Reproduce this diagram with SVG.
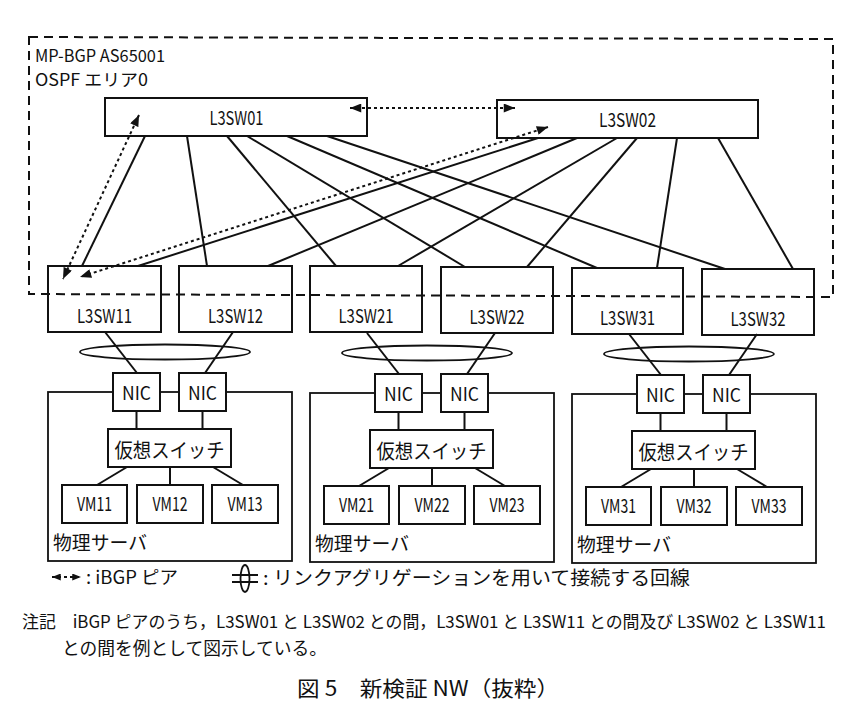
<svg xmlns="http://www.w3.org/2000/svg" width="857" height="717" viewBox="0 0 857 717">
<style>
text{font-family:"Noto Sans CJK JP","Noto Sans",sans-serif;fill:#111}
.box{fill:#fff;stroke:#111;stroke-width:2}
.sw{fill:none;stroke:#111;stroke-width:2}
.srv{fill:none;stroke:#111;stroke-width:1.8}
.ln{stroke:#111;stroke-width:2;fill:none}
.ibgp{stroke:#111;stroke-width:2;fill:none;stroke-dasharray:3 3}
.area{fill:none;stroke:#111;stroke-width:2;stroke-dasharray:9 6}
.lag{fill:none;stroke:#111;stroke-width:1.8}
.lbl{font-size:19px}
.c{text-anchor:middle}
</style>
<defs>
<marker id="ah" viewBox="0 0 10 8" refX="10" refY="4" markerWidth="12" markerHeight="9" markerUnits="userSpaceOnUse" orient="auto-start-reverse"><path d="M0,0 L10,4 L0,8 Z" fill="#111"/></marker>
<marker id="ahs" viewBox="0 0 10 8" refX="10" refY="4" markerWidth="9" markerHeight="7" markerUnits="userSpaceOnUse" orient="auto-start-reverse"><path d="M0,0 L10,4 L0,8 Z" fill="#111"/></marker>
</defs>
<rect width="857" height="717" fill="#fff"/>

<g id="area">
<path class="area" d="M29,37 L833,39 L833,297 L29,294 Z"/>
<text x="35" y="62" font-size="17" textLength="130" lengthAdjust="spacingAndGlyphs">MP-BGP AS65001</text>
<text x="35" y="86" font-size="17" textLength="113" lengthAdjust="spacingAndGlyphs">OSPF エリア0</text>
</g>

<g id="L3SW01"><rect class="box" x="105" y="98" width="262" height="38"/><text class="lbl c" x="236.5" y="125" textLength="54" lengthAdjust="spacingAndGlyphs">L3SW01</text></g>
<g id="L3SW02"><rect class="box" x="497" y="100" width="261" height="38"/><text class="lbl c" x="627.5" y="127" textLength="57" lengthAdjust="spacingAndGlyphs">L3SW02</text></g>

<g id="L3SW11"><rect class="sw" x="48" y="266" width="113" height="66"/><text class="lbl c" x="104.5" y="323" textLength="55" lengthAdjust="spacingAndGlyphs">L3SW11</text></g>
<g id="L3SW12"><rect class="sw" x="179" y="266" width="113" height="66"/><text class="lbl c" x="235.5" y="323" textLength="55" lengthAdjust="spacingAndGlyphs">L3SW12</text></g>
<g id="L3SW21"><rect class="sw" x="310" y="266" width="112" height="66"/><text class="lbl c" x="366" y="323" textLength="55" lengthAdjust="spacingAndGlyphs">L3SW21</text></g>
<g id="L3SW22"><rect class="sw" x="441" y="267" width="112" height="66"/><text class="lbl c" x="497" y="324" textLength="55" lengthAdjust="spacingAndGlyphs">L3SW22</text></g>
<g id="L3SW31"><rect class="sw" x="572" y="268" width="111" height="66"/><text class="lbl c" x="627.5" y="325" textLength="55" lengthAdjust="spacingAndGlyphs">L3SW31</text></g>
<g id="L3SW32"><rect class="sw" x="702" y="269" width="112" height="66"/><text class="lbl c" x="758" y="326" textLength="55" lengthAdjust="spacingAndGlyphs">L3SW32</text></g>

<g id="server1">
<rect class="srv" x="48" y="392" width="244" height="169"/>
<text x="53" y="550" font-size="19" textLength="94" lengthAdjust="spacingAndGlyphs">物理サーバ</text>
</g>
<g id="NIC11"><rect class="box" x="113" y="373" width="47" height="38"/><text class="c" x="136.5" y="400" font-size="18" textLength="29" lengthAdjust="spacingAndGlyphs">NIC</text></g>
<g id="NIC12"><rect class="box" x="179" y="373" width="47" height="38"/><text class="c" x="202.5" y="400" font-size="18" textLength="29" lengthAdjust="spacingAndGlyphs">NIC</text></g>
<g id="vswitch1"><rect class="box" x="108" y="429" width="123" height="38"/><text class="c" x="169.5" y="458" font-size="20" textLength="110" lengthAdjust="spacingAndGlyphs">仮想スイッチ</text></g>
<g id="VM11"><rect class="box" x="62" y="485" width="65" height="38"/><text class="c" x="94.5" y="511" font-size="19" textLength="35" lengthAdjust="spacingAndGlyphs">VM11</text></g>
<g id="VM12"><rect class="box" x="137" y="485" width="66" height="38"/><text class="c" x="170" y="511" font-size="19" textLength="35" lengthAdjust="spacingAndGlyphs">VM12</text></g>
<g id="VM13"><rect class="box" x="212" y="485" width="66" height="38"/><text class="c" x="245" y="511" font-size="19" textLength="35" lengthAdjust="spacingAndGlyphs">VM13</text></g>

<g transform="translate(262,1)">
<g id="server2">
<rect class="srv" x="48" y="392" width="244" height="169"/>
<text x="53" y="550" font-size="19" textLength="94" lengthAdjust="spacingAndGlyphs">物理サーバ</text>
</g>
<g id="NIC21"><rect class="box" x="113" y="373" width="47" height="38"/><text class="c" x="136.5" y="400" font-size="18" textLength="29" lengthAdjust="spacingAndGlyphs">NIC</text></g>
<g id="NIC22"><rect class="box" x="179" y="373" width="47" height="38"/><text class="c" x="202.5" y="400" font-size="18" textLength="29" lengthAdjust="spacingAndGlyphs">NIC</text></g>
<g id="vswitch2"><rect class="box" x="108" y="429" width="123" height="38"/><text class="c" x="169.5" y="458" font-size="20" textLength="110" lengthAdjust="spacingAndGlyphs">仮想スイッチ</text></g>
<g id="VM21"><rect class="box" x="62" y="485" width="65" height="38"/><text class="c" x="94.5" y="511" font-size="19" textLength="35" lengthAdjust="spacingAndGlyphs">VM21</text></g>
<g id="VM22"><rect class="box" x="137" y="485" width="66" height="38"/><text class="c" x="170" y="511" font-size="19" textLength="35" lengthAdjust="spacingAndGlyphs">VM22</text></g>
<g id="VM23"><rect class="box" x="212" y="485" width="66" height="38"/><text class="c" x="245" y="511" font-size="19" textLength="35" lengthAdjust="spacingAndGlyphs">VM23</text></g>
</g>

<g transform="translate(524,2)">
<g id="server3">
<rect class="srv" x="48" y="392" width="244" height="169"/>
<text x="53" y="550" font-size="19" textLength="94" lengthAdjust="spacingAndGlyphs">物理サーバ</text>
</g>
<g id="NIC31"><rect class="box" x="113" y="373" width="47" height="38"/><text class="c" x="136.5" y="400" font-size="18" textLength="29" lengthAdjust="spacingAndGlyphs">NIC</text></g>
<g id="NIC32"><rect class="box" x="179" y="373" width="47" height="38"/><text class="c" x="202.5" y="400" font-size="18" textLength="29" lengthAdjust="spacingAndGlyphs">NIC</text></g>
<g id="vswitch3"><rect class="box" x="108" y="429" width="123" height="38"/><text class="c" x="169.5" y="458" font-size="20" textLength="110" lengthAdjust="spacingAndGlyphs">仮想スイッチ</text></g>
<g id="VM31"><rect class="box" x="62" y="485" width="65" height="38"/><text class="c" x="94.5" y="511" font-size="19" textLength="35" lengthAdjust="spacingAndGlyphs">VM31</text></g>
<g id="VM32"><rect class="box" x="137" y="485" width="66" height="38"/><text class="c" x="170" y="511" font-size="19" textLength="35" lengthAdjust="spacingAndGlyphs">VM32</text></g>
<g id="VM33"><rect class="box" x="212" y="485" width="66" height="38"/><text class="c" x="245" y="511" font-size="19" textLength="35" lengthAdjust="spacingAndGlyphs">VM33</text></g>
</g>

<g id="connectors">
<line class="ln" x1="145" y1="136" x2="82" y2="266"/>
<line class="ln" x1="187" y1="136" x2="207" y2="266"/>
<line class="ln" x1="227" y1="136" x2="336" y2="266"/>
<line class="ln" x1="247" y1="136" x2="465" y2="267"/>
<line class="ln" x1="287" y1="136" x2="597" y2="268"/>
<line class="ln" x1="327" y1="136" x2="725" y2="269"/>
<line class="ln" x1="538" y1="138" x2="138" y2="266"/>
<line class="ln" x1="577" y1="138" x2="268" y2="266"/>
<line class="ln" x1="617" y1="138" x2="398" y2="266"/>
<line class="ln" x1="637" y1="138" x2="527" y2="267"/>
<line class="ln" x1="677" y1="138" x2="657" y2="268"/>
<line class="ln" x1="718" y1="138" x2="793" y2="269"/>
<line class="ibgp" x1="350" y1="108" x2="515" y2="108" marker-start="url(#ah)" marker-end="url(#ah)"/>
<line class="ibgp" x1="139" y1="115" x2="63" y2="279" marker-start="url(#ah)" marker-end="url(#ah)"/>
<line class="ibgp" x1="548" y1="127" x2="80" y2="277" marker-start="url(#ah)" marker-end="url(#ah)"/>
<g id="lag1">
<ellipse class="lag" cx="165" cy="352" rx="85" ry="7.5"/>
<line class="ln" x1="105" y1="332" x2="137" y2="373"/>
<line class="ln" x1="233" y1="332" x2="205" y2="373"/>
<line class="ln" x1="136.5" y1="411" x2="136.5" y2="429"/>
<line class="ln" x1="202.5" y1="411" x2="202.5" y2="429"/>
<line class="ln" x1="127" y1="467" x2="97" y2="485"/>
<line class="ln" x1="170" y1="467" x2="170" y2="485"/>
<line class="ln" x1="213" y1="467" x2="243" y2="485"/>
</g>
<g id="lag2" transform="translate(262,1)">
<ellipse class="lag" cx="165" cy="352" rx="85" ry="7.5"/>
<line class="ln" x1="105" y1="332" x2="137" y2="373"/>
<line class="ln" x1="233" y1="332" x2="205" y2="373"/>
<line class="ln" x1="136.5" y1="411" x2="136.5" y2="429"/>
<line class="ln" x1="202.5" y1="411" x2="202.5" y2="429"/>
<line class="ln" x1="127" y1="467" x2="97" y2="485"/>
<line class="ln" x1="170" y1="467" x2="170" y2="485"/>
<line class="ln" x1="213" y1="467" x2="243" y2="485"/>
</g>
<g id="lag3" transform="translate(524,2)">
<ellipse class="lag" cx="165" cy="352" rx="85" ry="7.5"/>
<line class="ln" x1="105" y1="332" x2="137" y2="373"/>
<line class="ln" x1="233" y1="332" x2="205" y2="373"/>
<line class="ln" x1="136.5" y1="411" x2="136.5" y2="429"/>
<line class="ln" x1="202.5" y1="411" x2="202.5" y2="429"/>
<line class="ln" x1="127" y1="467" x2="97" y2="485"/>
<line class="ln" x1="170" y1="467" x2="170" y2="485"/>
<line class="ln" x1="213" y1="467" x2="243" y2="485"/>
</g>
</g>

<g id="legend">
<line class="ibgp" x1="52" y1="577" x2="81" y2="577" stroke-dasharray="2.5 2.5" marker-start="url(#ahs)" marker-end="url(#ahs)"/>
<text x="86" y="584" font-size="18" textLength="92" lengthAdjust="spacingAndGlyphs">: iBGP ピア</text>
<line class="ln" x1="232" y1="575" x2="258" y2="575"/>
<line class="ln" x1="232" y1="582" x2="258" y2="582"/>
<ellipse class="lag" cx="245" cy="578.5" rx="4.5" ry="13.5"/>
<text x="263" y="585" font-size="19" textLength="427" lengthAdjust="spacingAndGlyphs">: リンクアグリゲーションを用いて接続する回線</text>
</g>

<g id="note">
<text x="22" y="628" font-size="17" textLength="804" lengthAdjust="spacingAndGlyphs">注記　iBGP ピアのうち，L3SW01 と L3SW02 との間，L3SW01 と L3SW11 との間及び L3SW02 と L3SW11</text>
<text x="62" y="655" font-size="18" textLength="265" lengthAdjust="spacingAndGlyphs">との間を例として図示している。</text>
<text x="428" y="696" class="c" font-size="21" textLength="262" lengthAdjust="spacingAndGlyphs">図 5　新検証 NW（抜粋）</text>
</g>
</svg>
